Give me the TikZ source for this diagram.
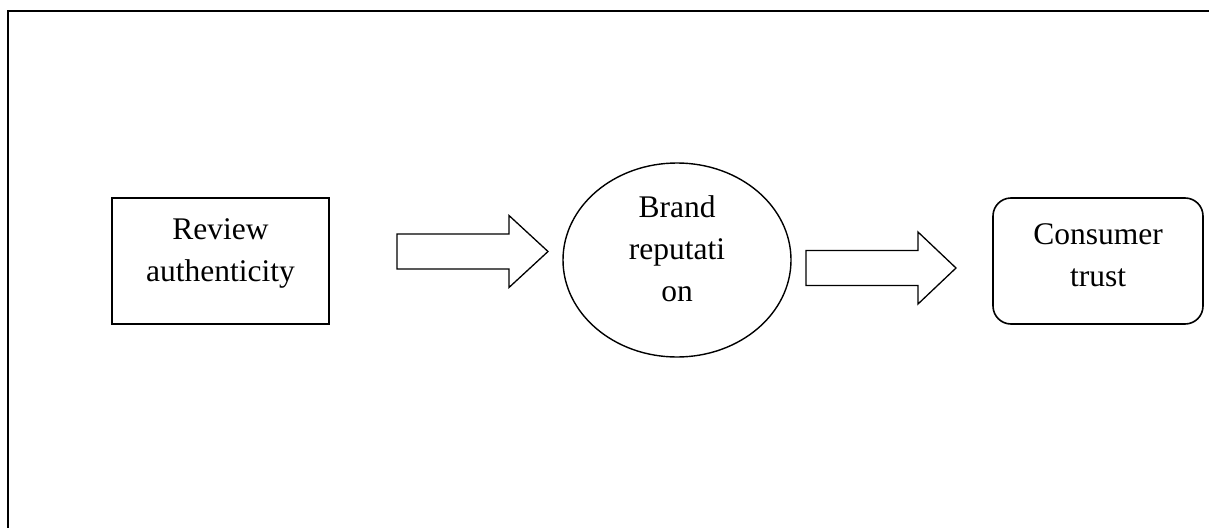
\documentclass[tikz,border=0pt]{standalone}
\usepackage{fontspec}
\setmainfont{Liberation Serif}
\usetikzlibrary{shapes.geometric}
\begin{document}
\begin{tikzpicture}[x=1pt,y=-1pt,
  box/.style={draw,line width=1.6pt,minimum width=217pt,minimum height=126pt,inner sep=0pt},
  oval/.style={draw,ellipse,line width=1.4pt,minimum width=228pt,minimum height=194pt,inner sep=0pt},
  roundbox/.style={draw,line width=1.6pt,rounded corners=18pt,minimum width=210pt,minimum height=126pt,inner sep=0pt},
  txt/.style={font=\fontsize{31.5}{42}\selectfont,align=center,inner sep=0pt},
  blockarrow/.style={draw,line width=1.3pt,line join=miter}]
\useasboundingbox (0,0) rectangle (1209,527);
\clip (0,0) rectangle (1209,527);
\draw[line width=2.5pt] (8,11) rectangle (1230,560);
\node[box] (b1) at (220.5,261) {};
\node[oval] (b2) at (677,260) {};
\node[roundbox] (b3) at (1098,261) {};
\node[txt] (t1) at ([yshift=7.5pt]b1.center) {Review\\authenticity};
\node[txt] (t2) at ([yshift=11pt]b2.center) {Brand\\reputati\\on};
\node[txt] (t3) at ([yshift=5.5pt]b3.center) {Consumer\\trust};
\coordinate (a1s) at (397,251.5);
\coordinate (a2s) at (806,268);
\draw[blockarrow] (a1s) ++(0,-17.5) -- ++(112,0) -- ++(0,-18.5) -- ++(39,36) -- ++(-39,36) -- ++(0,-18.5) -- ++(-112,0) -- cycle;
\draw[blockarrow] (a2s) ++(0,-17.5) -- ++(112,0) -- ++(0,-18.5) -- ++(38,36) -- ++(-38,36) -- ++(0,-18.5) -- ++(-112,0) -- cycle;
\end{tikzpicture}
\end{document}
